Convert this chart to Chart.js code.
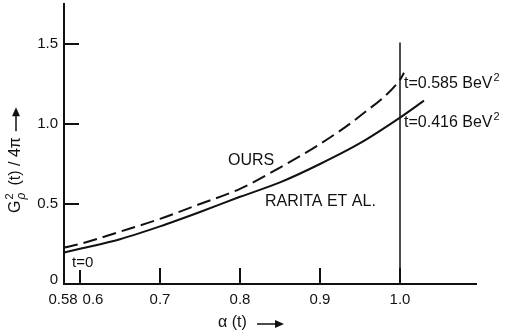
<!DOCTYPE html>
<html>
<head>
<meta charset="utf-8">
<script src="https://cdn.jsdelivr.net/npm/chart.js@4/dist/chart.umd.min.js"></script>
<style>
  html, body { margin: 0; padding: 0; background: #fff; }
  #wrap { width: 505px; height: 335px; }
</style>
</head>
<body>
<div id="wrap"><canvas id="chart" width="505" height="335"></canvas></div>
<script>
// values
const raritaAlpha = [0.58, 0.6, 0.65, 0.7, 0.75, 0.8, 0.85, 0.9, 0.95, 1.0, 1.03];
const raritaG = [0.197, 0.22, 0.28, 0.36, 0.45, 0.545, 0.635, 0.75, 0.88, 1.04, 1.146];

const oursAlpha = [0.58, 0.6, 0.65, 0.7, 0.75, 0.8, 0.85, 0.9, 0.95, 1.0, 1.005];
const oursG = [0.228, 0.25, 0.327, 0.407, 0.5, 0.595, 0.728, 0.875, 1.05, 1.277, 1.32];

const markerAlpha = [1.0, 1.0];
const markerG = [0, 1.51];

const xTicks = [0.58, 0.6, 0.7, 0.8, 0.9, 1.0];
const xTickLabels = ['0.58', '0.6', '0.7', '0.8', '0.9', '1.0'];
const yTicks = [0, 0.5, 1.0, 1.5];
const yTickLabels = ['0', '0.5', '1.0', '1.5'];

const FONT = '"Liberation Sans", Arial, sans-serif';
const INK = '#111';

function toPoints(xs, ys) {
    return xs.map((x, i) => ({ x: x, y: ys[i] }));
}

function arrowRight(ctx, x0, x1, y) {
    ctx.beginPath();
    ctx.moveTo(x0, y);
    ctx.lineTo(x1 - 6, y);
    ctx.stroke();
    ctx.beginPath();
    ctx.moveTo(x1, y);
    ctx.lineTo(x1 - 9, y - 4);
    ctx.lineTo(x1 - 9, y + 4);
    ctx.closePath();
    ctx.fill();
}

const decorations = {
    id: 'decorations',
    afterDraw(chart) {
        const ctx = chart.ctx;
        const xs = chart.scales.x;
        const ys = chart.scales.y;
        const x0 = xs.getPixelForValue(xs.min);
        const y0 = ys.getPixelForValue(0);
        ctx.save();
        ctx.strokeStyle = INK;
        ctx.fillStyle = INK;
        ctx.lineWidth = 2;

        // inward ticks
        xTicks.forEach((v, i) => {
            if (i === 0) return;
            const px = xs.getPixelForValue(v);
            ctx.beginPath();
            ctx.moveTo(px, y0);
            ctx.lineTo(px, y0 - (i === 1 ? 14 : 16));
            ctx.stroke();
        });
        yTicks.forEach((v, i) => {
            if (i === 0) return;
            const py = ys.getPixelForValue(v);
            ctx.beginPath();
            ctx.moveTo(x0, py);
            ctx.lineTo(x0 + 15, py);
            ctx.stroke();
        });

        // tick labels
        ctx.font = '15px ' + FONT;
        ctx.textBaseline = 'middle';
        ctx.textAlign = 'center';
        xTicks.forEach((v, i) => {
            let px = xs.getPixelForValue(v);
            if (i === 0) px -= 1;
            if (i === 1) px += 13;
            ctx.fillText(xTickLabels[i], px, y0 + 16);
        });
        ctx.textAlign = 'right';
        yTicks.forEach((v, i) => {
            const py = ys.getPixelForValue(v);
            ctx.fillText(yTickLabels[i], x0 - 6, py - (i === 0 ? 4 : 0));
        });

        // annotations
        ctx.textAlign = 'left';
        ctx.font = '16px ' + FONT;
        ctx.fillText('OURS', 228, 161);
        ctx.fillText('RARITA ET AL.', 265, 202);
        ctx.font = '15px ' + FONT;
        ctx.fillText('t=0', 72, 263);
        [['t=0.585 BeV', 84], ['t=0.416 BeV', 123]].forEach(([txt, y]) => {
            ctx.font = '16px ' + FONT;
            ctx.fillText(txt, 404, y);
            const w = ctx.measureText(txt).width;
            ctx.font = '11px ' + FONT;
            ctx.fillText('2', 404 + w + 1, y - 6);
        });

        // x axis title
        ctx.font = '16px ' + FONT;
        ctx.fillText('\u03b1 (t)', 218, 323);
        ctx.lineWidth = 1.5;
        arrowRight(ctx, 257, 284, 324);

        // y axis title (rotated)
        ctx.save();
        ctx.translate(16, 213);
        ctx.rotate(-Math.PI / 2);
        ctx.textAlign = 'left';
        ctx.textBaseline = 'middle';
        ctx.font = '16px ' + FONT;
        ctx.fillText('G', 0, 0);
        let cx = ctx.measureText('G').width + 1;
        ctx.font = '11px ' + FONT;
        ctx.fillText('2', cx, -6);
        ctx.font = 'italic 12px ' + FONT;
        ctx.fillText('\u03c1', cx, 6);
        cx += 14;
        ctx.font = '16px ' + FONT;
        const rest = '(t) / 4\u03c0';
        ctx.fillText(rest, cx, 0);
        cx += ctx.measureText(rest).width + 6;
        ctx.lineWidth = 1.5;
        arrowRight(ctx, cx, cx + 24, 0);
        ctx.restore();

        ctx.restore();
    }
};

new Chart(document.getElementById('chart'), {
    type: 'scatter',
    data: {
        datasets: [
            {
                label: 'Rarita et al.',
                data: toPoints(raritaAlpha, raritaG),
                showLine: true,
                borderColor: INK,
                borderWidth: 2,
                pointRadius: 0,
                cubicInterpolationMode: 'monotone'
            },
            {
                label: 'Ours',
                data: toPoints(oursAlpha, oursG),
                showLine: true,
                borderColor: INK,
                borderWidth: 2,
                borderDash: [14, 6],
                pointRadius: 0,
                cubicInterpolationMode: 'monotone'
            },
            {
                label: 'alpha = 1',
                data: toPoints(markerAlpha, markerG),
                showLine: true,
                borderColor: INK,
                borderWidth: 1.5,
                pointRadius: 0
            }
        ]
    },
    options: {
        responsive: false,
        animation: false,
        layout: { padding: { left: 64, right: 29, top: 4, bottom: 51 } },
        plugins: {
            legend: { display: false },
            tooltip: { enabled: false }
        },
        scales: {
            x: {
                type: 'linear',
                min: 0.58,
                max: 1.095,
                grid: { display: false, drawTicks: false },
                border: { display: true, color: INK, width: 2 },
                ticks: { display: false }
            },
            y: {
                type: 'linear',
                min: 0,
                max: 1.75,
                grid: { display: false, drawTicks: false },
                border: { display: true, color: INK, width: 2 },
                ticks: { display: false }
            }
        }
    },
    plugins: [decorations]
});
</script>
</body>
</html>
